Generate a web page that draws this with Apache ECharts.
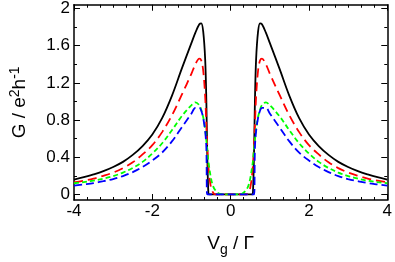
<!DOCTYPE html>
<html>
<head>
<meta charset="utf-8">
<script src="https://cdn.jsdelivr.net/npm/echarts@6/dist/echarts.min.js"></script>
<style>
html,body{margin:0;padding:0;background:#fff;}
#chart{width:395px;height:262px;}
</style>
</head>
<body>
<div id="chart"></div>
<script>
// Gate voltage V_g / Gamma
const xs = [-4, -3.75, -3.5, -3.25, -3, -2.75, -2.5, -2.25, -2, -1.75, -1.5, -1.25, -1, -0.9, -0.8, -0.75, -0.7, -0.65, -0.62, -0.6, -0.57, -0.55, -0.5, -0.45, -0.4, -0.3, -0.2,
            0,
            0.2, 0.3, 0.4, 0.45, 0.5, 0.55, 0.57, 0.6, 0.62, 0.65, 0.7, 0.75, 0.8, 0.9, 1, 1.25, 1.5, 1.75, 2, 2.25, 2.5, 2.75, 3, 3.25, 3.5, 3.75, 4];
// Conductance G / e^2 h^-1 for each curve
const blackG = [0.16, 0.185, 0.215, 0.25, 0.295, 0.35, 0.425, 0.52, 0.645, 0.82, 1.06, 1.35, 1.63, 1.74, 1.83, 1.84, 1.75, 1.45, 1.0, 0.5, 0.02, 0, 0, 0, 0, 0, 0,
                0,
                0, 0, 0, 0, 0, 0, 0.02, 0.5, 1.0, 1.45, 1.75, 1.84, 1.83, 1.74, 1.63, 1.35, 1.06, 0.82, 0.645, 0.52, 0.425, 0.35, 0.295, 0.25, 0.215, 0.185, 0.16];
const redG = [0.13, 0.148, 0.17, 0.2, 0.235, 0.283, 0.345, 0.43, 0.53, 0.67, 0.85, 1.07, 1.30, 1.40, 1.46, 1.44, 1.33, 1.05, 0.75, 0.55, 0.32, 0.22, 0.07, 0.02, 0, 0, 0,
              0,
              0, 0, 0, 0.02, 0.07, 0.22, 0.32, 0.55, 0.75, 1.05, 1.33, 1.44, 1.46, 1.40, 1.30, 1.07, 0.85, 0.67, 0.53, 0.43, 0.345, 0.283, 0.235, 0.2, 0.17, 0.148, 0.13];
const greenG = [0.12, 0.133, 0.148, 0.17, 0.197, 0.235, 0.285, 0.35, 0.44, 0.55, 0.69, 0.84, 0.96, 0.99, 0.96, 0.91, 0.83, 0.70, 0.58, 0.50, 0.36, 0.30, 0.17, 0.09, 0.05, 0.01, 0,
                0,
                0, 0.01, 0.05, 0.09, 0.17, 0.30, 0.36, 0.50, 0.58, 0.70, 0.83, 0.91, 0.96, 0.99, 0.96, 0.84, 0.69, 0.55, 0.44, 0.35, 0.285, 0.235, 0.197, 0.17, 0.148, 0.133, 0.12];
const blueG = [0.095, 0.108, 0.122, 0.142, 0.165, 0.197, 0.24, 0.295, 0.365, 0.45, 0.57, 0.72, 0.87, 0.93, 0.93, 0.90, 0.82, 0.68, 0.50, 0, 0, 0, 0, 0, 0, 0, 0,
               0,
               0, 0, 0, 0, 0, 0, 0, 0, 0.50, 0.68, 0.82, 0.90, 0.93, 0.93, 0.87, 0.72, 0.57, 0.45, 0.365, 0.295, 0.24, 0.197, 0.165, 0.142, 0.122, 0.108, 0.095];
// Axis ticks
const yMajorTicks = [0, 0.4, 0.8, 1.2, 1.6, 2];
const yMinorTicks = [0.2, 0.6, 1.0, 1.4, 1.8];

const FONT = 'Liberation Sans, Arial, sans-serif';
const chart = echarts.init(document.getElementById('chart'), null, {renderer: 'canvas'});

function pairs(ys) { return xs.map((x, i) => [x, ys[i]]); }

const yMin = -0.06, yMax = 2.04;

function yAxisDef(pos, major, withLabel, len, showLine) {
  return {
    type: 'value', position: pos, min: yMin, max: yMax,
    axisLine: {show: showLine, onZero: false, lineStyle: {color: '#000', width: 1.5}},
    axisTick: {show: true, inside: true, length: len, customValues: major, lineStyle: {color: '#000', width: 1}},
    axisLabel: {show: withLabel, customValues: major, color: '#000', fontSize: 17, fontFamily: FONT, margin: 4,
                formatter: v => String(+v.toFixed(1))},
    splitLine: {show: false}
  };
}

const option = {
  animation: false,
  backgroundColor: '#fff',
  grid: {left: 66, right: 6, top: 2, bottom: 60},
  xAxis: [
    {
      type: 'value', position: 'bottom', min: -4, max: 4, interval: 2,
      name: 'V{sub|g} / Γ', nameLocation: 'middle', nameGap: 30,
      nameTextStyle: {color: '#000', fontSize: 19, fontFamily: FONT,
        rich: {sub: {fontSize: 14, fontFamily: FONT, color: '#000', padding: [13, 0, 0, 0]}}},
      axisLine: {show: true, onZero: false, lineStyle: {color: '#000', width: 1.5}},
      axisTick: {show: true, inside: true, length: 6, lineStyle: {color: '#000'}},
      minorTick: {show: true, splitNumber: 6, length: 3, lineStyle: {color: '#000'}},
      axisLabel: {color: '#000', fontSize: 17, fontFamily: FONT, margin: 3},
      splitLine: {show: false}, minorSplitLine: {show: false}
    },
    {
      type: 'value', position: 'top', min: -4, max: 4, interval: 2,
      axisLine: {show: true, onZero: false, lineStyle: {color: '#000', width: 1.5}},
      axisTick: {show: true, inside: true, length: 6, lineStyle: {color: '#000'}},
      minorTick: {show: true, splitNumber: 6, length: 3, lineStyle: {color: '#000'}},
      axisLabel: {show: false}, splitLine: {show: false}
    }
  ],
  yAxis: [
    Object.assign(yAxisDef('left', yMajorTicks, true, 6, true), {
      name: 'G / e{sup|2}h{sup|-1}', nameLocation: 'middle', nameGap: 42, nameRotate: 90,
      nameTextStyle: {color: '#000', fontSize: 19, fontFamily: FONT,
        rich: {sup: {fontSize: 14, fontFamily: FONT, color: '#000', padding: [0, 0, 10, 0]}}}
    }),
    yAxisDef('left', yMinorTicks, false, 3, false),
    yAxisDef('right', yMajorTicks, false, 6, true),
    yAxisDef('right', yMinorTicks, false, 3, false)
  ],
  series: [
    {type: 'line', name: 'black', data: pairs(blackG), showSymbol: false, smooth: 0.35,
     lineStyle: {color: '#000000', width: 1.8}},
    {type: 'line', name: 'red', data: pairs(redG), showSymbol: false, smooth: 0.35,
     lineStyle: {color: '#ff0000', width: 1.8, type: [9, 5]}},
    {type: 'line', name: 'green', data: pairs(greenG), showSymbol: false, smooth: 0.35,
     lineStyle: {color: '#00ff00', width: 1.8, type: [5, 3]}},
    {type: 'line', name: 'blue', data: pairs(blueG), showSymbol: false, smooth: 0.35,
     lineStyle: {color: '#0000ff', width: 1.8, type: [8, 4]}}
  ]
};
chart.setOption(option);
</script>
</body>
</html>
